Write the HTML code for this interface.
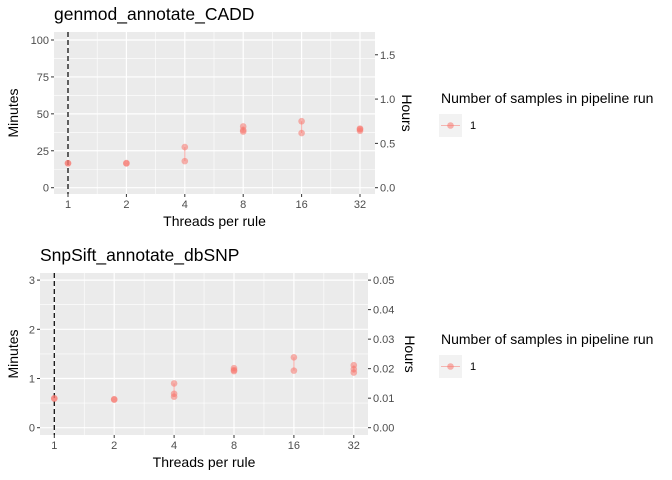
<!DOCTYPE html>
<html><head><meta charset="utf-8"><style>
body{margin:0;background:#fff;}
svg{display:block;font-family:"Liberation Sans",sans-serif;}
</style></head><body>
<svg id="c" width="672" height="480"></svg>
<script>
const threadCats=[1,2,4,8,16,32];
const cadd_x=[1,1,2,2,4,4,8,8,8,16,16,32,32,32];
const cadd_y=[16.5,16.6,16.4,16.7,18,27.5,38,39,41.5,37,45,38.5,40,39.5];
const snp_x=[1,1,2,2,4,4,4,8,8,8,16,16,32,32,32];
const snp_y=[0.59,0.6,0.57,0.58,0.63,0.69,0.9,1.15,1.17,1.21,1.16,1.43,1.12,1.19,1.27];
const caddLeftTicks=[0,25,50,75,100];
const caddRightTicks=[0,0.5,1.0,1.5];
const caddRightLabels=["0.0","0.5","1.0","1.5"];
const snpLeftTicks=[0,1,2,3];
const snpRightTicks=[0,0.01,0.02,0.03,0.04,0.05];
const snpRightLabels=["0.00","0.01","0.02","0.03","0.04","0.05"];
const NS="http://www.w3.org/2000/svg";
const svg=document.getElementById('c');
function mk(tag,attrs,parent,text){const e=document.createElementNS(NS,tag);for(const k in attrs)e.setAttribute(k,attrs[k]);if(text!==undefined)e.textContent=text;(parent||svg).appendChild(e);return e;}
function panel(p){
  const g=mk('g',{});
  
  
  const X=v=>p.x1+(Math.log2(v))*p.step;
  const Y=v=>p.y0-v*p.ppu;
  const bg=mk('rect',{x:p.L,y:p.T,width:p.R-p.L,height:p.B-p.T,fill:'#ebebeb'},g);
  
  
  for(let i=0;i<p.left.length-1;i++){const v=(p.left[i]+p.left[i+1])/2;mk('line',{x1:p.L,x2:p.R,y1:Y(v),y2:Y(v),stroke:'#fff','stroke-width':0.6},g);}
  for(let i=0;i<threadCats.length-1;i++){const xv=(X(threadCats[i])+X(threadCats[i+1]))/2;mk('line',{x1:xv,x2:xv,y1:p.T,y2:p.B,stroke:'#fff','stroke-width':0.6},g);}
  p.left.forEach(v=>{mk('line',{x1:p.L,x2:p.R,y1:Y(v),y2:Y(v),stroke:'#fff','stroke-width':1.2},g);
    mk('line',{x1:p.L-3,x2:p.L,y1:Y(v),y2:Y(v),stroke:'#333'},g);
    const t=mk('text',{x:p.L-5,y:Y(v)+4,'text-anchor':'end','font-size':11,fill:'#4d4d4d'},g,String(v));
    });
  p.right.forEach((v,i)=>{const yy=Y(v*60);
    mk('line',{x1:p.R,x2:p.R+3,y1:yy,y2:yy,stroke:'#333'},g);
    const t=mk('text',{x:p.R+5,y:yy+4,'font-size':11,fill:'#4d4d4d'},g,p.rightLab[i]);
    });
  threadCats.forEach(c=>{const xv=X(c);
    mk('line',{x1:xv,x2:xv,y1:p.T,y2:p.B,stroke:'#fff','stroke-width':1.2},g);
    mk('line',{x1:xv,x2:xv,y1:p.B,y2:p.B+3,stroke:'#333'},g);
    const t=mk('text',{x:xv,y:p.B+14,'text-anchor':'middle','font-size':11,fill:'#4d4d4d'},g,String(c));
    });
  const vl=mk('line',{x1:X(1),x2:X(1),y1:p.T,y2:p.B,stroke:'#111','stroke-width':1.3,'stroke-dasharray':'5,3'},g);
  
  threadCats.forEach(c=>{const ys=p.ys.filter((v,i)=>p.xs[i]===c);if(ys.length>1){
    mk('line',{x1:X(c),x2:X(c),y1:Y(Math.min(...ys)),y2:Y(Math.max(...ys)),stroke:'#f8766d','stroke-opacity':0.5,'stroke-width':1.2},g);}});
  p.xs.forEach((xv,i)=>{const pt=mk('circle',{cx:X(xv),cy:Y(p.ys[i]),r:3.3,fill:'#f8766d','fill-opacity':0.55},g);
    });
  const t1=mk('text',{x:p.L,y:p.T-12,'font-size':17.5,fill:'#000'},g,p.title);
  
  const t2=mk('text',{x:(p.L+p.R)/2,y:p.B+32,'text-anchor':'middle','font-size':14,fill:'#000'},g,'Threads per rule');
  
  const my=(p.T+p.B)/2;
  const t3=mk('text',{x:18,y:my,'text-anchor':'middle','font-size':14,transform:`rotate(-90 18 ${my})`},g,'Minutes');
  
  const hx=p.hx;
  const t4=mk('text',{x:hx,y:my,'text-anchor':'middle','font-size':14,transform:`rotate(90 ${hx} ${my})`},g,'Hours');
  
  const lg=mk('g',{},g);
  mk('text',{x:441,y:p.legY,'font-size':14},lg,'Number of samples in pipeline run');
  mk('rect',{x:439,y:p.legY+11,width:23,height:23,fill:'#f2f2f2'},lg);
  mk('line',{x1:441,x2:460,y1:p.legY+22.5,y2:p.legY+22.5,stroke:'#f8766d','stroke-opacity':0.5},lg);
  mk('circle',{cx:450.5,cy:p.legY+22.5,r:3.3,fill:'#f8766d','fill-opacity':0.55},lg);
  mk('text',{x:470,y:p.legY+26,'font-size':11},lg,'1');
}
panel({name:'cadd-panel',title:'genmod_annotate_CADD',L:54,R:375,T:32,B:194,x1:68,step:58.4,y0:187.7,ppu:1.477,hx:402,
  left:caddLeftTicks,right:caddRightTicks,rightLab:caddRightLabels,xs:cadd_x,ys:cadd_y,legY:103});
panel({name:'snpsift-panel',title:'SnpSift_annotate_dbSNP',L:40,R:368,T:273,B:435,x1:54.3,step:59.9,y0:427.7,ppu:49.2,hx:405,
  left:snpLeftTicks,right:snpRightTicks,rightLab:snpRightLabels,xs:snp_x,ys:snp_y,legY:344});
</script>
</body></html>
